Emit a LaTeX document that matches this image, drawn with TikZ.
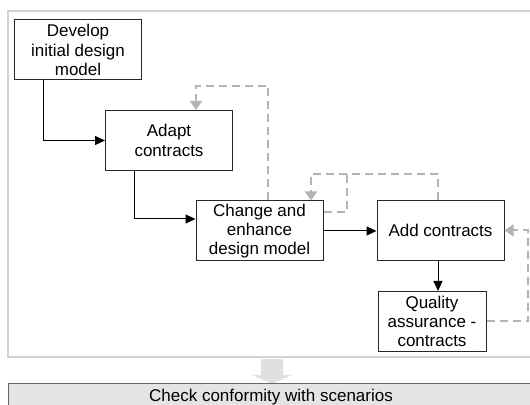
\documentclass[tikz,border=0pt]{standalone}
\usepackage{fontspec}
\setmainfont{Liberation Sans}
\usetikzlibrary{arrows.meta}
\definecolor{backgrey}{RGB}{180,180,180}
\definecolor{panelgrey}{RGB}{210,210,210}
\definecolor{barfill}{RGB}{228,228,228}
\definecolor{bigarrow}{RGB}{224,224,224}
\begin{document}
\begin{tikzpicture}[x=0.5pt,y=-0.5pt,
  box/.style={draw=black!85, line width=0.5pt, minimum width=63.5pt, minimum height=30pt,
    inner sep=0pt, align=center, font=\fontsize{8.5pt}{9.6pt}\selectfont},
  flow/.style={line width=0.5pt, -{Triangle[length=5pt,width=4.5pt]}},
  back/.style={draw=backgrey, line width=1pt, dash pattern=on 4pt off 2.5pt,
    -{Triangle[length=4.5pt,width=6pt,fill=backgrey]}}]
\useasboundingbox (0,0) rectangle (530,405);
\draw [draw=panelgrey, line width=1pt] (8,11) rectangle (536,357) ;
\fill [bigarrow] (261,359) -- (283,359) -- (283,375) -- (292,375) -- (272,384) -- (252,375) -- (261,375) -- cycle ;

\node [box] (develop) at (78,50) {Develop\\initial design\\model};
\node [box] (adapt) at (169,140.5) {Adapt\\contracts};
\node [box] (change) at (259.5,231) {Change and\\enhance\\design model};
\node [box] (add) at (440.5,230.5) {Add contracts};
\node [box, minimum width=54pt] (quality) at (432,321.5) {Quality\\assurance -\\contracts};
\node [draw=black!60, fill=barfill, line width=0.5pt, minimum width=263pt, minimum height=13pt,
  inner sep=0pt, font=\fontsize{8.5pt}{9.6pt}\selectfont] (check) at (271,397) {Check conformity with scenarios};

\coordinate (hi) at (347,174);
\coordinate (far) at (528,0);

\draw [flow] (develop.south west) ++(29,0) |- (adapt.west) ;
\draw [flow] (adapt.south west) ++(29,0) |- ([yshift=6pt]change.west) ;
\draw [flow] (change.east) -- (change.east -| add.west) ;
\draw [flow] (add.south -| 438,0) -- (quality.north -| 438,0) ;

\draw [back] (change.north -| 268,0) -- (268,86) -| (adapt.north -| 196,0) ;
\draw [back, -] (change.east |- 0,212) -| (hi) ;
\draw [back] (add.north -| 438,0) |- (hi) -| (change.north -| 311,0) ;
\draw [back] (quality.east) -| (far |- 0,270) |- (add.east) ;
\end{tikzpicture}
\end{document}
